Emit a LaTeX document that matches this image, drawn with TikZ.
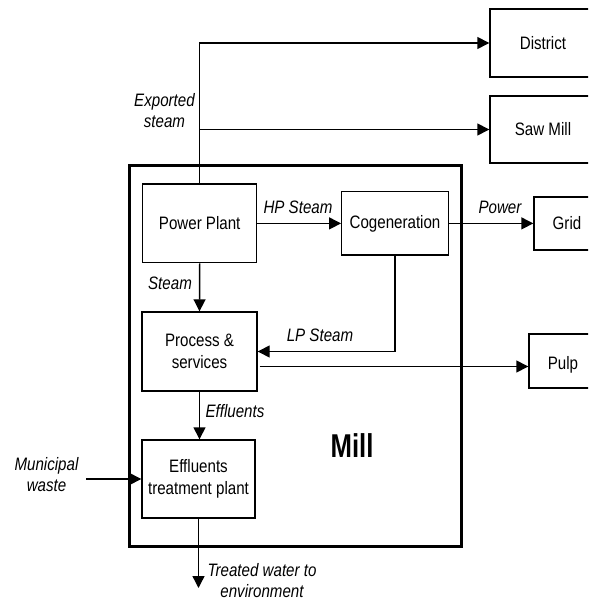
\documentclass[tikz,border=0pt]{standalone}
\usepackage{fontspec}
\setmainfont{Liberation Sans}[FakeStretch=0.84]
\newfontfamily\millfont{Liberation Sans}[FakeStretch=0.78]
\usetikzlibrary{arrows.meta,calc}
\begin{document}
\begin{tikzpicture}[x=1pt,y=-1pt,
  box/.style={draw, line width=1.4pt, inner sep=0pt, align=center, font=\fontsize{18}{22}\selectfont},
  lbl/.style={font=\fontsize{18}{21}\selectfont\itshape, inner sep=0pt, align=center},
  flow/.style={line width=1.4pt, -{Triangle[length=12pt,width=12pt]}},
  millbox/.style={draw, line width=3pt}]
\useasboundingbox (0,0) rectangle (588,601);
\begin{scope}
\clip (0,0) rectangle (588,601);
% outer boxes
\node[box, minimum width=106pt, minimum height=68pt] (district) at (543,43) {District};
\node[box, minimum width=106pt, minimum height=67pt] (sawmill) at (543,129.5) {Saw Mill};
\node[box, minimum width=66pt, minimum height=53pt] (grid) at (567,223.5) {Grid};
\node[box, minimum width=68pt, minimum height=54pt, label={[font=\fontsize{18}{22}\selectfont, yshift=-4pt]center:Pulp}] (pulp) at (563,361) {};
\end{scope}
% mill
\node[millbox, minimum width=332pt, minimum height=380pt, inner sep=0pt] (mill) at (295,356) {};
\node[font=\millfont\bfseries\fontsize{33}{36}\selectfont, inner sep=0pt] (milllbl) at (352,446) {Mill};
% inner boxes
\node[box, minimum width=114pt, minimum height=78.7pt] (pp) at (199.7,223.4) {Power Plant};
\node[box, minimum width=106.5pt, minimum height=63.5pt] (cogen) at (395,223.4) {Cogeneration};
\node[box, minimum width=115pt, minimum height=79pt] (proc) at (199.5,351.5) {Process \&\\services};
\node[box, minimum width=113pt, minimum height=78pt] (etp) at (198.5,479) {Effluents\\treatment plant};
% connectors
\draw[flow] (pp.north) |- (district.west);
\coordinate (smb) at (pp.north |- sawmill.west);
\draw[flow] (smb) -- (sawmill.west);
\draw[flow] (pp.east) -- (cogen.west);
\draw[flow] (cogen.east) -- (cogen.east -| grid.west);
\draw[flow] (pp.south) -- (proc.north);
\draw[flow] (cogen.south) |- (proc.east);
\coordinate (pa) at ($(proc.east)+(2,15)$);
\draw[flow] (pa) -- (pa -| pulp.west);
\draw[flow] (proc.south) -- (proc.south |- etp.north);
\coordinate (mw) at (86,479);
\draw[flow] (mw) -- (etp.west);
\coordinate (tw) at (198.5,588);
\draw[flow] (etp.south) -- (tw);
% labels
\node[lbl] (lexp) at (164.5,111) {Exported\\steam};
\node[lbl] (lhp) at (298,207) {HP Steam};
\node[lbl] (lpow) at (500,207) {Power};
\node[lbl] (lst) at (170,283) {Steam};
\node[lbl] (llp) at (320,335) {LP Steam};
\node[lbl] (leff) at (235,411) {Effluents};
\node[lbl] (lmun) at (46.5,474.5) {Municipal\\waste};
\node[lbl] (ltw) at (262,580.5) {Treated water to\\environment};
\end{tikzpicture}
\end{document}
